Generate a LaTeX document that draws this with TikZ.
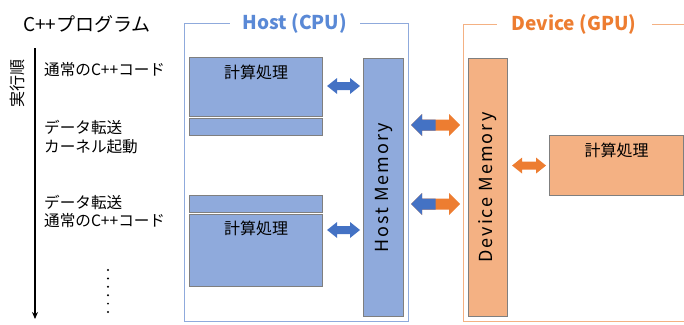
\documentclass[tikz,border=0pt]{standalone}
\usepackage{fontspec}
\setmainfont{Noto Sans CJK JP}
\usetikzlibrary{calc,arrows.meta}

\definecolor{hostblue}{HTML}{4472C4}
\definecolor{hosttitle}{HTML}{5A89D6}
\definecolor{hostfill}{HTML}{8FAADC}
\definecolor{hostline}{HTML}{8FAADC}
\definecolor{devorange}{HTML}{ED7D31}
\definecolor{devfill}{HTML}{F4B183}
\definecolor{devline}{HTML}{F4B183}
\definecolor{boxgray}{HTML}{7F7F7F}

% Block double arrow between two points on the same row.
% #1 left end, #2 right end, #3 half shaft, #4 half head, #5 head length
\newcommand\blockpath[5]{%
  let \p1=(#1), \p2=(#2) in
  (\x1,\y1) -- (\x1+#5,\y1+#4) -- (\x1+#5,\y1+#3) -- (\x2-#5,\y1+#3)
  -- (\x2-#5,\y1+#4) -- (\x2,\y1) -- (\x2-#5,\y1-#4) -- (\x2-#5,\y1-#3)
  -- (\x1+#5,\y1-#3) -- (\x1+#5,\y1-#4) -- cycle}

\begin{document}
\begin{tikzpicture}[x=1pt,y=-1pt,
  hbox/.style={draw=boxgray, line width=1.1pt, fill=hostfill, inner sep=0pt, anchor=north west},
  dbox/.style={draw=boxgray, line width=1.1pt, fill=devfill, inner sep=0pt, anchor=north west},
  frame/.style={line width=1.1pt, inner sep=0pt, anchor=north west},
  lbl/.style={font=\fontsize{15.6}{18}\selectfont, anchor=west, inner sep=0pt},
  boxtext/.style={font=\fontsize{16}{19}\selectfont, inner sep=0pt},
  memtext/.style={font=\fontsize{18}{21}\selectfont\addfontfeatures{LetterSpace=11}, inner sep=0pt, rotate=90},
  titletext/.style={font=\fontsize{19}{22}\selectfont\bfseries, fill=white, inner sep=0pt, minimum height=22pt},
]
\useasboundingbox (0,0) rectangle (684,324);
\clip (0,0) rectangle (684,324);

% program order column
\node[lbl, font=\fontsize{19}{22}\selectfont] (prog) at (23,24) {C++プログラム};
\coordinate (tstart) at (35,48);
\coordinate (tend) at (35,319);
\draw[line width=1.8pt, -{Stealth[length=7pt,width=6pt]}] (tstart) -- (tend);
\node[boxtext, rotate=90] (order) at (17,83) {実行順};

\node[lbl] (s1) at (44,70) {通常のC++コード};
\node[lbl] (s2) at (44,127) {データ転送};
\node[lbl] (s3) at (44,147) {カーネル起動};
\node[lbl] (s4) at (44,202) {データ転送};
\node[lbl] (s5) at (44,221) {通常のC++コード};
\foreach \i in {0,...,5}
  \fill (108,{270+8.4*\i}) circle (1.1pt);

% host side
\node[frame, draw=hostline, minimum width=224pt, minimum height=298pt] (host) at (184,23) {};
\node[titletext, text=hosttitle, minimum width=130pt] (hosttitle) at (295,23) {Host (CPU)};

\node[hbox, minimum width=133pt, minimum height=59pt] (c1) at (189,57) {};
\node[hbox, minimum width=133pt, minimum height=17pt] (b1) at (189,118) {};
\node[hbox, minimum width=133pt, minimum height=17pt] (b2) at (189,195) {};
\node[hbox, minimum width=133pt, minimum height=72pt] (c2) at (189,214) {};
\node[boxtext] (c1t) at ($(c1.north)+(0,15)$) {計算処理};
\node[boxtext] (c2t) at ($(c2.north)+(0,14)$) {計算処理};

\node[hbox, minimum width=40pt, minimum height=258pt] (hm) at (363,58) {};
\node[memtext] (hmt) at (hm.center) {Host Memory};

% device side
\node[frame, draw=devline, minimum width=240pt, minimum height=297pt] (dev) at (463,24) {};
\node[titletext, text=devorange, minimum width=155pt] (devtitle) at (574,24) {Device (GPU)};

\node[dbox, minimum width=39pt, minimum height=258pt] (dm) at (468,58) {};
\node[memtext] (dmt) at (dm.center) {Device Memory};

\node[dbox, minimum width=134pt, minimum height=60pt] (g1) at (549,135) {};
\node[boxtext] (g1t) at ($(g1.north)+(0,15)$) {計算処理};

% rows of the transfer arrows
\coordinate (r1) at (0,86);
\coordinate (r2) at (0,230);
\coordinate (r3) at (0,125);
\coordinate (r4) at (0,204);

\coordinate (a1l) at ($(c1.east |- r1)+(4,0)$);
\coordinate (a1r) at ($(hm.west |- r1)+(-3,0)$);
\coordinate (a2l) at ($(c2.east |- r2)+(4,0)$);
\coordinate (a2r) at ($(hm.west |- r2)+(-3,0)$);
\coordinate (a3l) at ($(hm.east |- r3)+(7,0)$);
\coordinate (a3r) at ($(dm.west |- r3)+(-8,0)$);
\coordinate (a4l) at ($(hm.east |- r4)+(7,0)$);
\coordinate (a4r) at ($(dm.west |- r4)+(-8,0)$);
\coordinate (a5l) at ($(dm.east |- g1.west)+(4,0)$);
\coordinate (a5r) at ($(g1.west)+(-3,0)$);

\fill[hostblue] \blockpath{a1l}{a1r}{4pt}{8pt}{10pt};
\fill[hostblue] \blockpath{a2l}{a2r}{4pt}{8pt}{10pt};
\fill[devorange] \blockpath{a5l}{a5r}{4pt}{8pt}{10pt};

\foreach \l/\r in {a3l/a3r, a4l/a4r} {
  \fill[devorange] \blockpath{\l}{\r}{5.5pt}{11pt}{11pt};
  \begin{scope}
    \clip let \p1=(\l), \p2=(\r) in (\x1-2pt,\y1-15pt) rectangle ({(\x1+\x2)/2},\y1+15pt);
    \fill[hostblue] \blockpath{\l}{\r}{5.5pt}{11pt}{11pt};
  \end{scope}
}
\end{tikzpicture}
\end{document}
